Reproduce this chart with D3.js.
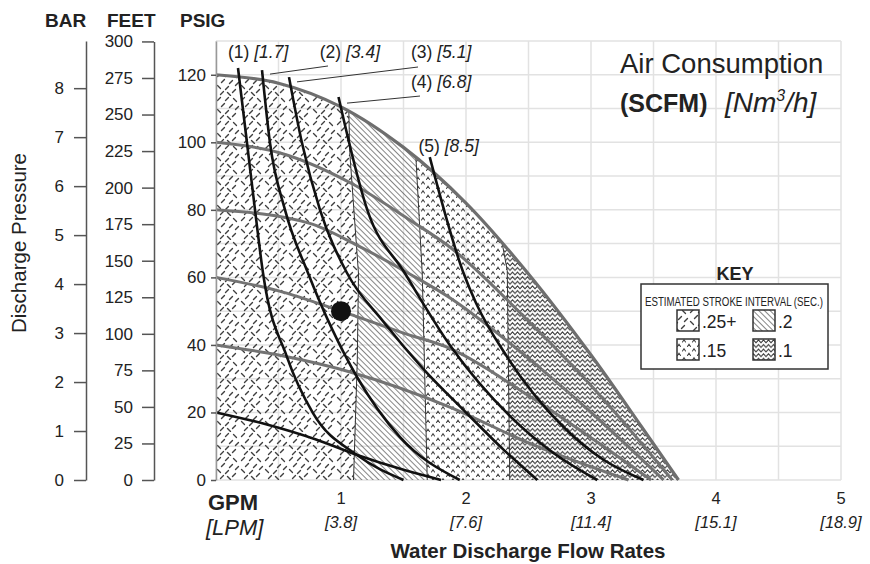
<!DOCTYPE html>
<html>
<head>
<meta charset="utf-8">
<script src="https://cdn.jsdelivr.net/npm/d3@7"></script>
<style>
body { margin: 0; background: #fff; }
svg { font-family: "Liberation Sans", Arial, Helvetica, sans-serif; }
</style>
</head>
<body>
<svg id="chart" width="870" height="564"></svg>
<script>
// ---- data (GPM, PSIG) ----
var gpmTicks = [1, 2, 3, 4, 5];
var lpmLabels = ["[3.8]", "[7.6]", "[11.4]", "[15.1]", "[18.9]"];
var psiTicks = [0, 20, 40, 60, 80, 100, 120];
var feetTicks = [0, 25, 50, 75, 100, 125, 150, 175, 200, 225, 250, 275, 300];
var barTicks = [0, 1, 2, 3, 4, 5, 6, 7, 8];

// outer envelope (max performance curve)
var envelope = [[0, 120], [0.5, 117.5], [1, 110.5], [1.5, 98.5], [2, 82], [2.5, 61], [3, 37], [3.4, 16], [3.7, 0]];

// air inlet pressure lines (gray)
var air100 = [[0, 100], [0.5, 97], [1.1, 87.5], [1.55, 77], [1.87, 69], [2.5, 47], [3, 28], [3.65, 0]];
var air80 = [[0, 80], [0.75, 76], [1.13, 69.5], [1.55, 61], [1.87, 54], [2.5, 36], [3, 20], [3.58, 0]];
var air60 = [[0, 60], [0.5, 56], [1, 50], [1.5, 43.5], [1.87, 39], [2.5, 25], [3, 12.5], [3.48, 0]];
var air40 = [[0, 40], [0.5, 37], [1.1, 31.7], [1.87, 21.6], [2.5, 11], [3.3, 0]];

// air consumption lines (black)
var scfm1 = [[0.176, 122], [0.248, 99.8], [0.312, 80], [0.376, 61.3], [0.568, 36.4], [0.776, 19.8], [1.128, 7.4], [1.5, 0]];
var scfm2 = [[0.368, 121.4], [0.432, 99.8], [0.552, 80], [0.736, 61.3], [1.128, 30.5], [1.472, 12.7], [1.95, 0]];
var scfm3 = [[0.584, 119.3], [0.688, 99.8], [0.832, 80], [1.048, 61.3], [1.336, 47], [1.656, 33], [2.0, 20], [2.3, 9], [2.57, 0]];
var scfm4 = [[0.98, 113.4], [1.21, 80], [1.51, 61.3], [1.87, 40], [2.35, 19], [2.7, 8], [3.05, 0]];
var scfm5 = [[1.71, 95.6], [1.98, 61.3], [2.08, 52.4], [2.33, 36.4], [2.78, 15.7], [3.1, 6], [3.42, 0]];
var air20 = [[0, 20], [0.4, 16.5], [0.8, 12], [1.13, 7.4], [1.5, 3], [1.8, 0]];

// stroke interval zone boundaries
var edge1 = [[1.05, 130], [1.07, 97], [1.14, 61], [1.13, 35], [1.1, 0]];
var edge2 = [[1.59, 130], [1.6, 95], [1.65, 61], [1.69, 0]];
var edge3 = [[2.28, 130], [2.29, 70], [2.33, 62], [2.35, 0]];

var curveLabels = [
	{ n: "(1) ", v: "[1.7]", at: [0.096, 125] },
	{ n: "(2) ", v: "[3.4]", at: [0.83, 125] },
	{ n: "(3) ", v: "[5.1]", at: [1.56, 125] },
	{ n: "(4) ", v: "[6.8]", at: [1.56, 116] },
	{ n: "(5) ", v: "[8.5]", at: [1.62, 97] }
];
var leaders = [
	[[0.896, 122.6], [0.432, 120.2]],
	[[1.616, 122.3], [0.648, 117.9]],
	[[1.632, 113.7], [1.048, 111.6]]
];
var dot = [1, 50];

var keyItems = [
	{ label: ".25+", pat: "p25" },
	{ label: ".2", pat: "p20" },
	{ label: ".15", pat: "p15" },
	{ label: ".1", pat: "p10" }
];

// ---- drawing ----
var svg = d3.select("#chart");
var x = d3.scaleLinear().domain([0, 5]).range([216, 841]);
var y = d3.scaleLinear().domain([0, 130]).range([480, 41]);
var yFeet = d3.scaleLinear().domain([0, 300]).range([480, y(300 / 2.31)]);
var yBar = d3.scaleLinear().domain([0, 130 / 14.5038]).range([480, 41]);

var defs = svg.append("defs");

function pattern(id, w, h, paths, color, sw, transform) {
	var p = defs.append("pattern")
		.attr("id", id)
		.attr("patternUnits", "userSpaceOnUse")
		.attr("width", w)
		.attr("height", h);
	if (transform) p.attr("patternTransform", transform);
	paths.forEach(function (d) {
		p.append("path").attr("d", d)
			.attr("fill", "none")
			.attr("stroke", color)
			.attr("stroke-width", sw)
			.attr("stroke-linecap", "round");
	});
}

// scattered short strokes for the .25+ texture
var dashMarks = [[3, 3, 1], [11, 3, 1], [19, 4, -1], [7, 9, 1], [15, 10, 1], [21, 12, 1],
	[3, 15, -1], [11, 16, 1], [18, 19, 1], [6, 21, 1], [13, 22, -1]];
pattern("p25", 24, 24, dashMarks.map(function (m) {
	var h = 1.5;
	return "M" + (m[0] - h) + "," + (m[1] + h * m[2]) + "L" + (m[0] + h) + "," + (m[1] - h * m[2]);
}), "#3f3f3f", 1.35);
pattern("p20", 4, 4, ["M0,-1L0,5"], "#333", 1.2, "rotate(-45)");
pattern("p15", 10, 9, ["M1.5,4L3,1.8L4.5,4", "M6.5,8.5L8,6.3L9.5,8.5"], "#444", 1.1);
pattern("p10", 5, 4.6, ["M0,3.6L2.5,0.8L5,3.6"], "#333", 1);

var line = d3.line()
	.x(function (d) { return x(d[0]); })
	.y(function (d) { return y(d[1]); })
	.curve(d3.curveMonotoneX);
var smooth = d3.line()
	.x(function (d) { return x(d[0]); })
	.y(function (d) { return y(d[1]); })
	.curve(d3.curveCatmullRom.alpha(0.5));
var poly = d3.line()
	.x(function (d) { return x(d[0]); })
	.y(function (d) { return y(d[1]); });

var envPath = smooth(envelope);
defs.append("clipPath").attr("id", "env")
	.append("path").attr("d", envPath + "L" + x(0) + "," + y(0) + "Z");

// grid
var grid = svg.append("g").attr("stroke", "#e2e2e2").attr("stroke-width", 1.5);
d3.range(0, 5.01, 0.5).forEach(function (g) {
	grid.append("line").attr("x1", x(g)).attr("x2", x(g)).attr("y1", y(0)).attr("y2", y(130));
});
d3.range(0, 130.1, 10).forEach(function (g) {
	grid.append("line").attr("x1", x(0)).attr("x2", x(5)).attr("y1", y(g)).attr("y2", y(g));
});

// stroke interval zones
var leftEdge = [[0, 130], [0, 0]];
var rightEdge = [[5, 130], [5, 0]];
var bands = [
	{ a: leftEdge, b: edge1, pat: "p25" },
	{ a: edge1, b: edge2, pat: "p20" },
	{ a: edge2, b: edge3, pat: "p15" },
	{ a: edge3, b: rightEdge, pat: "p10" }
];
var zones = svg.append("g").attr("clip-path", "url(#env)");
bands.forEach(function (bd) {
	var pts = bd.a.concat(bd.b.slice().reverse());
	zones.append("path").attr("d", poly(pts) + "Z").attr("fill", "url(#" + bd.pat + ")");
});
[edge1, edge2, edge3].forEach(function (e) {
	zones.append("path").attr("d", poly(e)).attr("fill", "none").attr("stroke", "#333").attr("stroke-width", 1);
});

// gray air pressure lines
[air100, air80, air60, air40].forEach(function (s) {
	svg.append("path").attr("d", line(s)).attr("fill", "none")
		.attr("stroke", "#737373").attr("stroke-width", 3);
});
svg.append("path").attr("d", envPath).attr("fill", "none")
	.attr("stroke", "#6e6e6e").attr("stroke-width", 3.2);

// black consumption lines
[scfm1, scfm2, scfm3, scfm4, scfm5, air20].forEach(function (s) {
	svg.append("path").attr("d", line(s)).attr("fill", "none")
		.attr("stroke", "#111").attr("stroke-width", 2.6);
});

svg.append("circle").attr("cx", x(dot[0])).attr("cy", y(dot[1])).attr("r", 10).attr("fill", "#111");

// curve callouts
leaders.forEach(function (l) {
	svg.append("line")
		.attr("x1", x(l[0][0])).attr("y1", y(l[0][1]))
		.attr("x2", x(l[1][0])).attr("y2", y(l[1][1]))
		.attr("stroke", "#333").attr("stroke-width", 1);
});
curveLabels.forEach(function (c) {
	var t = svg.append("text").attr("x", x(c.at[0])).attr("y", y(c.at[1]))
		.attr("font-size", 17.5).attr("fill", "#222");
	t.append("tspan").text(c.n);
	t.append("tspan").attr("font-style", "italic").text(c.v);
});

// axes
function styleAxis(g) {
	g.selectAll("path.domain").attr("stroke", "#555").attr("stroke-width", 1.5);
	g.selectAll(".tick line").attr("stroke", "#555").attr("stroke-width", 1.5);
	g.selectAll(".tick text").attr("font-size", 17).attr("fill", "#222")
		.attr("font-family", "Liberation Sans, Arial, sans-serif");
}
svg.append("g").attr("transform", "translate(86,0)")
	.call(d3.axisLeft(yBar).tickValues(barTicks).tickSize(12).tickSizeOuter(0).tickPadding(10))
	.call(styleAxis);
svg.append("g").attr("transform", "translate(154,0)")
	.call(d3.axisLeft(yFeet).tickValues(feetTicks).tickSize(12).tickSizeOuter(0).tickPadding(9))
	.call(styleAxis);
var psiAxis = svg.append("g").attr("transform", "translate(" + x(0) + ",0)")
	.call(d3.axisLeft(y).tickValues(psiTicks).tickSize(5).tickSizeOuter(0).tickPadding(5))
	.call(styleAxis);
psiAxis.select("path.domain").attr("stroke", "#999");

// x labels
gpmTicks.forEach(function (g, i) {
	svg.append("text").attr("x", x(g)).attr("y", 504).attr("text-anchor", "middle")
		.attr("font-size", 16.5).attr("fill", "#222").text(g);
	svg.append("text").attr("x", x(g)).attr("y", 528).attr("text-anchor", "middle")
		.attr("font-size", 16.5).attr("font-style", "italic").attr("fill", "#222").text(lpmLabels[i]);
});
svg.append("text").attr("x", 208).attr("y", 510).attr("font-size", 22).attr("font-weight", "bold")
	.attr("fill", "#222").text("GPM");
svg.append("text").attr("x", 206).attr("y", 535).attr("font-size", 22).attr("font-style", "italic")
	.attr("fill", "#222").text("[LPM]");
svg.append("text").attr("x", 528).attr("y", 558).attr("text-anchor", "middle").attr("font-size", 20.5)
	.attr("font-weight", "bold").attr("fill", "#222").text("Water Discharge Flow Rates");

// y headers
[["BAR", 45], ["FEET", 107], ["PSIG", 180]].forEach(function (h) {
	svg.append("text").attr("x", h[1]).attr("y", 27).attr("font-size", 19).attr("font-weight", "bold")
		.attr("fill", "#222").text(h[0]);
});
svg.append("text").attr("transform", "translate(26,243) rotate(-90)").attr("text-anchor", "middle")
	.attr("font-size", 20.5).attr("fill", "#222").text("Discharge Pressure");

// title
svg.append("text").attr("x", 620).attr("y", 73).attr("font-size", 27.5).attr("fill", "#222").text("Air Consumption");
var t2 = svg.append("text").attr("x", 620).attr("y", 112).attr("font-size", 25).attr("fill", "#222");
t2.append("tspan").attr("font-weight", "bold").text("(SCFM)");
t2.append("tspan").attr("x", 725).attr("font-style", "italic").attr("font-size", 28).text("[Nm");
t2.append("tspan").attr("font-style", "italic").attr("font-size", 16).attr("dy", -11).text("3");
t2.append("tspan").attr("font-style", "italic").attr("font-size", 28).attr("dy", 11).text("/h]");

// key
svg.append("text").attr("x", 735).attr("y", 280).attr("text-anchor", "middle").attr("font-size", 18)
	.attr("font-weight", "bold").attr("fill", "#222").text("KEY");
var key = svg.append("g").attr("transform", "translate(641,284)");
key.append("rect").attr("width", 187).attr("height", 85).attr("fill", "#fff")
	.attr("stroke", "#333").attr("stroke-width", 1.5);
var cap = key.append("g");
var capText = cap.append("text").attr("font-size", 13.5).attr("fill", "#222")
	.text("ESTIMATED STROKE INTERVAL (SEC.)");
var capLen = capText.node().getComputedTextLength();
cap.attr("transform", "translate(4,22) scale(" + (178 / capLen) + ",1)");
keyItems.forEach(function (k, i) {
	var kx = 36 + (i % 2) * 76, ky = 26 + Math.floor(i / 2) * 29;
	key.append("rect").attr("x", kx).attr("y", ky).attr("width", 22).attr("height", 21)
		.attr("fill", "#fff");
	key.append("rect").attr("x", kx).attr("y", ky).attr("width", 22).attr("height", 21)
		.attr("fill", "url(#" + k.pat + ")").attr("stroke", "#333").attr("stroke-width", 1.5);
	key.append("text").attr("x", kx + 25).attr("y", ky + 18).attr("font-size", 17.5)
		.attr("fill", "#222").text(k.label);
});
</script>
</body>
</html>
